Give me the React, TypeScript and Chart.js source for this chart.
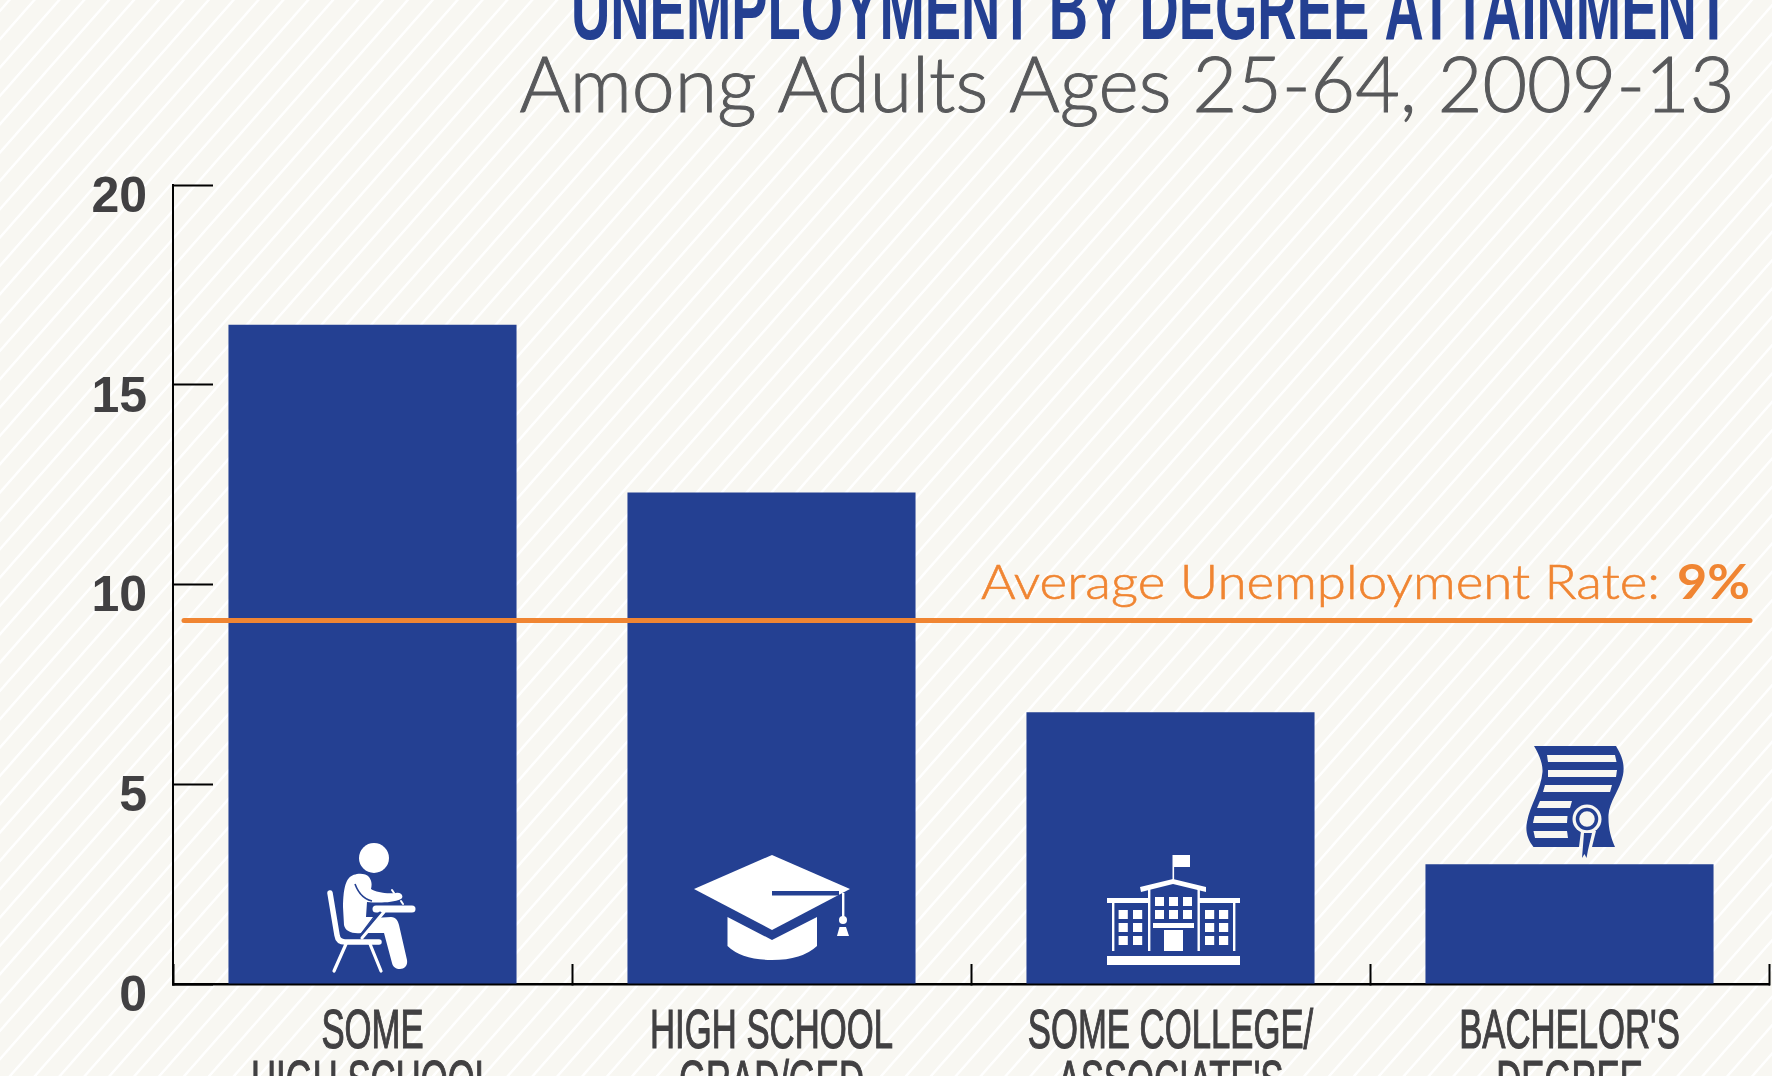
import React, { useEffect, useRef } from "react";
import { Chart, registerables } from "chart.js";

Chart.register(...registerables);

const categories: string[][] = [
  ["SOME", "HIGH SCHOOL"],
  ["HIGH SCHOOL", "GRAD/GED"],
  ["SOME COLLEGE/", "ASSOCIATE'S"],
  ["BACHELOR'S", "DEGREE"],
];
const unemployment = [16.5, 12.3, 6.8, 3.0];
const averageRate = 9.1;
const titleText = "UNEMPLOYMENT BY DEGREE ATTAINMENT";
const subtitleText = "Among Adults Ages 25-64, 2009-13";
const averageText = "Average Unemployment Rate:";
const averageValueText = "9%";

const BLUE = "#244092";
const ORANGE = "#f08532";
const GREY = "#414042";
const BG = "#f8f7f2";
const NARROW = '"Liberation Sans Narrow", "Liberation Sans", sans-serif';

function fitText(ctx: any, text: string, left: number, baseline: number, width: number, font: string, color: string, stroke = 0) {
  ctx.save();
  ctx.font = font;
  ctx.fillStyle = color;
  ctx.strokeStyle = color;
  ctx.textAlign = "left";
  ctx.textBaseline = "alphabetic";
  const w = ctx.measureText(text).width;
  ctx.translate(left, baseline);
  ctx.scale(width / w, 1);
  ctx.fillText(text, 0, 0);
  if (stroke) {
    ctx.lineWidth = stroke;
    ctx.strokeText(text, 0, 0);
  }
  ctx.restore();
}

const averageLinePlugin = {
  id: "averageLine",
  afterDatasetsDraw(chart: any) {
    const ctx = chart.ctx;
    const y = chart.scales.y.getPixelForValue(averageRate);
    ctx.save();
    ctx.strokeStyle = ORANGE;
    ctx.lineWidth = 5;
    ctx.lineCap = "round";
    ctx.beginPath();
    ctx.moveTo(184, y);
    ctx.lineTo(1750, y);
    ctx.stroke();
    ctx.restore();
  },
};

const textPlugin = {
  id: "texts",
  afterDraw(chart: any) {
    const ctx = chart.ctx;
    fitText(ctx, titleText, 571, 39, 1159, `bold 88px ${NARROW}`, BLUE);
    fitText(ctx, subtitleText, 519.5, 112, 1215, '300 77px Lato, "Open Sans", sans-serif', "#58595b", 1);
    fitText(ctx, averageText, 981, 599, 679, '300 47px Lato, "Open Sans", sans-serif', ORANGE, 0.6);
    fitText(ctx, averageValueText, 1677, 599, 73, '700 47px Lato, "Open Sans", sans-serif', ORANGE);

    const xs = chart.scales.x;
    ctx.save();
    ctx.font = `55px ${NARROW}`;
    ctx.fillStyle = GREY;
    ctx.strokeStyle = GREY;
    ctx.lineWidth = 1.2;
    ctx.textAlign = "center";
    ctx.textBaseline = "alphabetic";
    const sx = 243 / ctx.measureText("HIGH SCHOOL").width;
    categories.forEach((lines, i) => {
      const px = xs.getPixelForValue(i);
      lines.forEach((line, j) => {
        ctx.save();
        ctx.translate(px, 1048 + j * 51);
        ctx.scale(sx, 1);
        ctx.fillText(line, 0, 0);
        ctx.strokeText(line, 0, 0);
        ctx.restore();
      });
    });
    ctx.restore();
  },
};

function Icons() {
  const w = "#ffffff";
  return (
    <svg width={1772} height={1076} style={{ position: "absolute", left: 0, top: 0, pointerEvents: "none" }}>
      {/* student */}
      <g fill={w} stroke="none">
        <circle cx={374} cy={858} r={15} />
        <path d="M343 907 C343 893 345 882 349 878 C353 873 365 872 369 877 C372 881 372 885 371 889 C376 892 385 894 396 893 C402 892 404 897 401 899 C392 903 378 903 367 902 L366 917 L373 917 L361 933 C352 934 345 931 344 925 Z" />
        <path d="M374 918 L391 917 C396 917 398 921 399 925 L407 960 C408 966 404 969 400 969 C396 969 393 967 392 963 L384 933 L362 933 Z" />
      </g>
      <path d="M355 884 C358 892 363 899 372 901" fill="none" stroke={BLUE} strokeWidth={1.6} />
      <g fill="none" stroke={w} strokeLinecap="round">
        <path d="M376 909 L412 909" strokeWidth={7} />
        <path d="M380 913 L359 938" strokeWidth={3} stroke={BLUE} />
        <path d="M384 912 L362 938" strokeWidth={3} />
        <path d="M330 893 L337 935 Q338 942 345 942 L379 942" strokeWidth={5.5} strokeLinejoin="round" />
        <path d="M346 944 L334 971 M370 944 L381 971" strokeWidth={3.2} />
        <path d="M392 890 L394 893 M401 901 L403 904" strokeWidth={2} />
      </g>
      {/* graduation cap */}
      <g fill={w}>
        <path d="M772 855 L850 889 L772 930 L694 889 Z" />
        <rect x={772} y={891} width={67} height={4.5} fill={BLUE} />
        <rect x={842} y={893} width={2.4} height={27} />
        <circle cx={843} cy={920} r={4} />
        <path d="M839.5 927 L846 927 L849 936 L837 936 Z" />
        <path d="M727.5 917 L772 940 L817 917 L817 946 Q802 960 772 960 Q742 960 727.5 946 Z" />
      </g>
      {/* school */}
      <g fill={w}>
        <rect x={1107} y={956} width={133} height={9} />
        <rect x={1173} y={855} width={17} height={12} />
        <rect x={1172.5} y={855} width={1.6} height={27} />
        <path d="M1140 887 L1173 879 L1206 887 L1206 892 L1173 884 L1141 892 Z" />
        <rect x={1148} y={888} width={2.4} height={63} />
        <rect x={1197.5} y={888} width={2.4} height={63} />
        <rect x={1107} y={898} width={42} height={5} />
        <rect x={1199} y={898} width={41} height={5} />
        <rect x={1112} y={903} width={2.4} height={48} />
        <rect x={1233} y={903} width={2.4} height={48} />
        {[1155, 1169, 1183].map((x) => [897, 910].map((y) => <rect key={`c${x}-${y}`} x={x} y={y} width={9} height={9} />))}
        {[1118.6, 1133, 1205, 1219].map((x) => [910, 923, 936].map((y) => <rect key={`w${x}-${y}`} x={x} y={y} width={9.2} height={9} />))}
        <rect x={1153} y={923} width={41} height={5} />
        <rect x={1164} y={930} width={19} height={21} />
      </g>
      {/* diploma */}
      <path d="M1534 746 L1616 746 C1622 756 1625 764 1623 775 C1620 790 1609 802 1608.5 815 C1608 828 1611 838 1615 847 L1533.5 847 C1528 840 1525 832 1527 822 C1530 805 1541 790 1542.5 772 C1543 762 1538 753 1534 746 Z" fill={BLUE} />
      <g fill={BG}>
        <path d="M1547 755 L1615 755 L1616.5 762 L1548 762 Z" />
        <path d="M1548 770 L1617 770 L1616 777 L1548 777 Z" />
        <path d="M1545 785 L1612 785 L1610 792 L1543 792 Z" />
        <path d="M1540 801 L1572 801 L1570 808 L1537 808 Z" />
        <path d="M1534.5 816 L1567.5 816 L1567 823 L1533 823 Z" />
        <path d="M1533.5 831 L1567 831 L1568 838 L1535 838 Z" />
        <path d="M1581 831 L1596 831 L1592 847 L1579 847 Z" />
        <circle cx={1587} cy={819} r={14.5} />
      </g>
      <circle cx={1587} cy={819} r={9.5} fill={BG} stroke={BLUE} strokeWidth={3.5} />
      <path d="M1584 833 L1592 833 L1588 850 L1586.5 858 L1584.5 854 L1582 858 Z" fill={BLUE} />
    </svg>
  );
}

export default function App() {
  const ref = useRef<HTMLCanvasElement | null>(null);
  useEffect(() => {
    if (!ref.current) return;
    const chart = new Chart(ref.current, {
      type: "bar",
      data: {
        labels: categories as any,
        datasets: [
          {
            label: "Unemployment",
            data: unemployment,
            backgroundColor: BLUE,
            barPercentage: 0.722,
            categoryPercentage: 1,
          },
        ] as any,
      },
      plugins: [averageLinePlugin, textPlugin],
      options: {
        responsive: false,
        animation: false,
        layout: { padding: { top: 185, right: 3, left: 0, bottom: 0 } },
        plugins: { legend: { display: false }, tooltip: { enabled: false }, title: { display: false } },
        scales: {
          x: {
            type: "category",
            offset: true,
            grid: { drawOnChartArea: false, drawTicks: true, tickLength: -20, tickColor: "#000", tickWidth: 2, offset: true },
            border: { color: "#000", width: 2.5 },
            ticks: { display: false },
            afterFit(s: any) { s.height = 92; },
          },
          y: {
            min: 0,
            max: 20,
            grid: { drawOnChartArea: false, drawTicks: true, tickLength: -40, tickColor: "#000", tickWidth: 2 },
            border: { color: "#000", width: 2 },
            ticks: {
              stepSize: 5,
              padding: 66,
              labelOffset: 13,
              color: GREY,
              font: { family: '"Liberation Sans", sans-serif', size: 50, weight: "bold" },
            },
            afterFit(s: any) {
              s.width = 173;
              s.paddingTop = 0;
              s.paddingBottom = 0;
            },
          },
        },
      } as any,
    });
    return () => chart.destroy();
  }, []);

  return (
    <div
      style={{
        position: "fixed",
        left: 0,
        top: 0,
        width: 1772,
        height: 1076,
        overflow: "hidden",
        background: `repeating-linear-gradient(131.3deg, ${BG} 0px, ${BG} 5.5px, #ffffff 6.3px, #ffffff 7.9px, ${BG} 8.7px, ${BG} 18.7px)`,
      }}
    >
      <canvas ref={ref} width={1772} height={1076} style={{ position: "absolute", left: 0, top: 0, display: "block" }} />
      <Icons />
    </div>
  );
}
